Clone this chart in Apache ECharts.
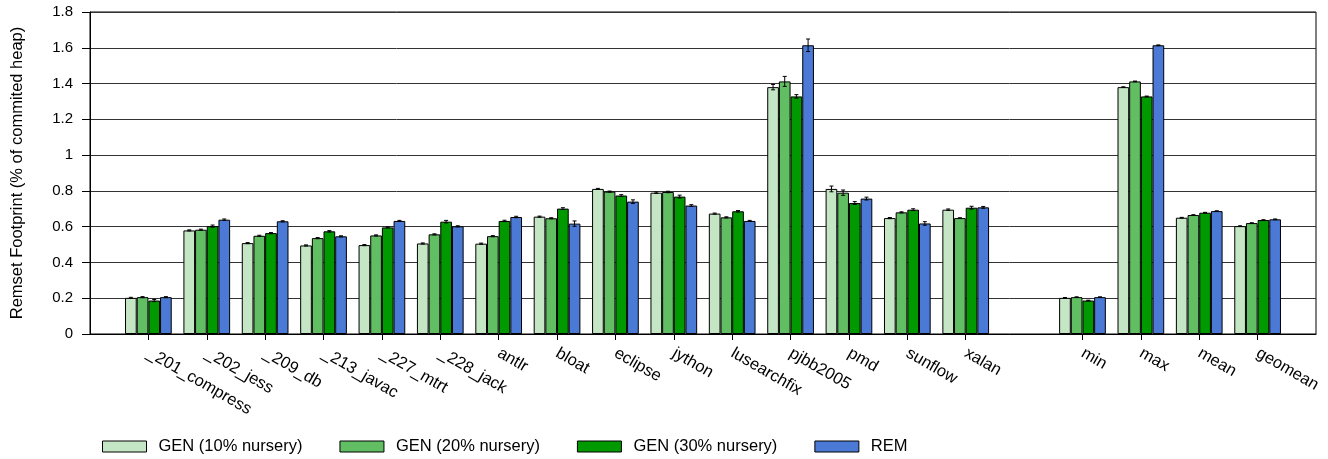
<!DOCTYPE html>
<html>
<head>
<meta charset="utf-8">
<script src="https://cdn.jsdelivr.net/npm/echarts@6/dist/echarts.min.js"></script>
<style>
  html, body { margin: 0; padding: 0; background: #fff; }
  #chart { width: 1328px; height: 459px; }
</style>
</head>
<body>
<div id="chart"></div>
<script>
// Benchmarks, a spacer slot, then the summary columns (empty strings are spacers)
const categories = ['', '_201_compress', '_202_jess', '_209_db', '_213_javac', '_227_mtrt', '_228_jack',
  'antlr', 'bloat', 'eclipse', 'jython', 'lusearchfix', 'pjbb2005', 'pmd', 'sunflow', 'xalan',
  '', 'min', 'max', 'mean', 'geomean', ''];

const seriesNames = ['GEN (10% nursery)', 'GEN (20% nursery)', 'GEN (30% nursery)', 'REM'];

// Remset footprint, % of committed heap
const gen10 = [null, 0.202, 0.579, 0.508, 0.495, 0.497, 0.506, 0.505, 0.656, 0.811, 0.790, 0.673, 1.380, 0.811, 0.648, 0.695, null, 0.202, 1.380, 0.650, 0.603, null];
const gen20 = [null, 0.206, 0.583, 0.549, 0.536, 0.551, 0.557, 0.547, 0.647, 0.796, 0.794, 0.652, 1.412, 0.790, 0.680, 0.648, null, 0.206, 1.412, 0.665, 0.620, null];
const gen30 = [null, 0.187, 0.603, 0.564, 0.574, 0.596, 0.628, 0.632, 0.701, 0.774, 0.768, 0.686, 1.328, 0.732, 0.695, 0.706, null, 0.187, 1.328, 0.678, 0.637, null];
const rem   = [null, 0.206, 0.639, 0.630, 0.546, 0.632, 0.602, 0.654, 0.617, 0.740, 0.718, 0.632, 1.614, 0.757, 0.618, 0.708, null, 0.206, 1.614, 0.687, 0.641, null];

// Half-width of the error bars
const gen10Err = [null, 0.003, 0.003, 0.003, 0.003, 0.003, 0.003, 0.003, 0.003, 0.003, 0.004, 0.003, 0.015, 0.016, 0.003, 0.004, null, 0.002, 0.002, 0.002, 0.002, null];
const gen20Err = [null, 0.003, 0.003, 0.003, 0.003, 0.003, 0.003, 0.003, 0.003, 0.003, 0.004, 0.003, 0.028, 0.015, 0.003, 0.002, null, 0.002, 0.002, 0.002, 0.002, null];
const gen30Err = [null, 0.006, 0.006, 0.003, 0.004, 0.003, 0.007, 0.004, 0.005, 0.005, 0.008, 0.004, 0.010, 0.008, 0.005, 0.008, null, 0.002, 0.002, 0.002, 0.002, null];
const remErr   = [null, 0.003, 0.004, 0.003, 0.003, 0.003, 0.003, 0.004, 0.015, 0.010, 0.005, 0.003, 0.035, 0.008, 0.010, 0.005, null, 0.002, 0.002, 0.002, 0.002, null];

const yTicks = { min: 0, max: 1.8, interval: 0.2 };

const colors = ['#c4e6c4', '#62be62', '#009900', '#4a7ad5'];
const FONT = '"Liberation Sans", Arial, Helvetica, sans-serif';
const BAR_FRAC = 0.2;

const values = [gen10, gen20, gen30, rem];
const errors = [gen10Err, gen20Err, gen30Err, remErr];

const barSeries = values.map((vals, s) => ({
  name: seriesNames[s],
  type: 'bar',
  data: vals,
  barWidth: (BAR_FRAC * 100) + '%',
  barGap: '0%',
  itemStyle: { color: colors[s], borderColor: '#000', borderWidth: 1 },
  emphasis: { disabled: true },
  z: 2
}));

// Error bar items: [category index, value, half-width, series index]
const errData = [];
values.forEach((vals, s) => {
  vals.forEach((v, i) => {
    if (v != null && errors[s][i] != null) errData.push([i, v, errors[s][i], s]);
  });
});

const errSeries = {
  type: 'custom',
  data: errData,
  encode: { x: 0, y: 1 },
  z: 5,
  silent: true,
  renderItem(params, api) {
    const i = api.value(0), v = api.value(1), e = api.value(2), s = api.value(3);
    const band = api.size([1, 0])[0];
    const w = band * BAR_FRAC;
    const cx = api.coord([i, v])[0] + (s - 1.5) * w;
    const yTop = api.coord([i, v + e])[1];
    const yBot = api.coord([i, v - e])[1];
    const cap = 2;
    const style = { stroke: '#000', lineWidth: 1 };
    return {
      type: 'group',
      children: [
        { type: 'line', shape: { x1: cx, y1: yTop, x2: cx, y2: yBot }, style },
        { type: 'line', shape: { x1: cx - cap, y1: yTop, x2: cx + cap, y2: yTop }, style },
        { type: 'line', shape: { x1: cx - cap, y1: yBot, x2: cx + cap, y2: yBot }, style }
      ]
    };
  }
};

const chart = echarts.init(document.getElementById('chart'), null, { renderer: 'canvas' });
chart.setOption({
  animation: false,
  textStyle: { fontFamily: FONT },
  grid: {
    left: 90, right: 12, top: 12, bottom: 125,
    show: true, borderColor: '#000', borderWidth: 1, backgroundColor: 'transparent'
  },
  legend: {
    data: seriesNames,
    left: 97,
    top: 433,
    itemWidth: 44,
    itemHeight: 11,
    itemGap: 37,
    icon: 'rect',
    itemStyle: { borderColor: '#000', borderWidth: 1 },
    textStyle: { fontFamily: FONT, fontSize: 16.5, color: '#000', padding: [0, 0, 0, 7] },
    selectedMode: false
  },
  xAxis: {
    type: 'category',
    data: categories,
    boundaryGap: false,
    axisLine: { show: true, lineStyle: { color: '#000', width: 1 } },
    axisTick: {
      show: true,
      length: 6,
      interval: (idx, val) => val !== '',
      lineStyle: { color: '#000' }
    },
    axisLabel: {
      interval: 0,
      rotate: -30,
      margin: 18,
      fontFamily: FONT,
      fontSize: 16.5,
      color: '#000'
    },
    splitLine: { show: false }
  },
  yAxis: {
    type: 'value',
    min: yTicks.min,
    max: yTicks.max,
    interval: yTicks.interval,
    name: 'Remset Footprint (% of commited heap)',
    nameLocation: 'middle',
    nameGap: 64,
    nameTextStyle: { fontFamily: FONT, fontSize: 16.5, color: '#000' },
    axisLine: { show: true, lineStyle: { color: '#000', width: 1 } },
    axisTick: { show: true, length: 8, lineStyle: { color: '#000' } },
    axisLabel: { margin: 17, fontFamily: FONT, fontSize: 15, color: '#000' },
    splitLine: { show: true, lineStyle: { color: '#333', width: 1 } }
  },
  series: [...barSeries, errSeries]
});
</script>
</body>
</html>
